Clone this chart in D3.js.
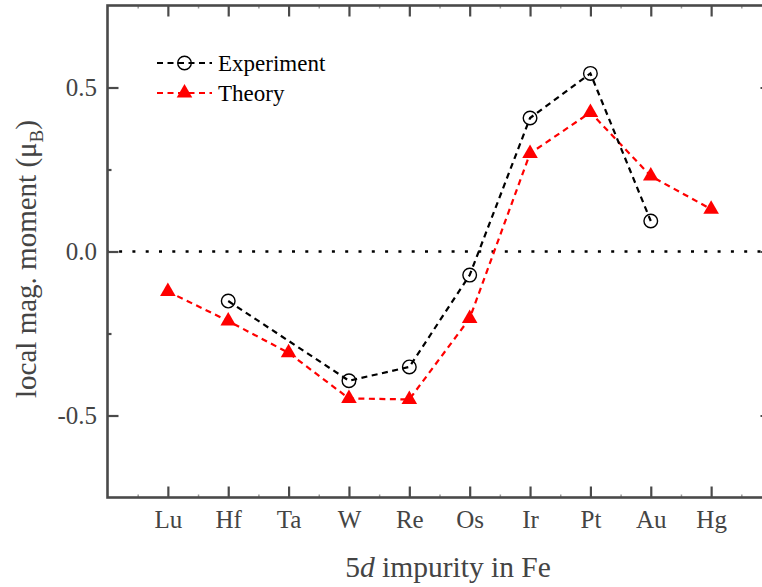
<!DOCTYPE html>
<html>
<head>
<meta charset="utf-8">
<script src="https://cdn.jsdelivr.net/npm/d3@7"></script>
<style>
  html, body { margin: 0; padding: 0; background: #fff; }
  svg { display: block; }
  svg text { font-family: "Liberation Serif", "Times New Roman", serif; }
</style>
</head>
<body>
<svg id="chart" width="762" height="587"></svg>
<script>
// ---- data ----
const elements = ["Lu", "Hf", "Ta", "W", "Re", "Os", "Ir", "Pt", "Au", "Hg"];
const experiment = [null, -0.151, null, -0.394, -0.352, -0.072, 0.407, 0.543, 0.093, null];
const theory = [-0.122, -0.212, -0.309, -0.448, -0.451, -0.204, 0.299, 0.424, 0.230, 0.129];
const yTicks = [-0.5, 0.0, 0.5];
const yMinorTicks = [-0.25, 0.25];
const seriesNames = ["Experiment", "Theory"];

// ---- layout ----
const FONT = '"Liberation Serif", "Times New Roman", serif';
const mLeft = 107.5, mRight = 771.5, mTop = 5.5, mBottom = 497.5;
const axisColor = "#4a4a4a";

const svg = d3.select("#chart");
const x = d3.scaleLinear().domain([0, elements.length + 1]).range([mLeft, mRight]);
const y = d3.scaleLinear().domain([-0.75, 0.75]).range([mBottom, mTop]);

const majorX = elements.map((d, i) => i + 1);
const minorX = d3.range(0, elements.length + 1).map(i => i + 0.5);

// zero dotted line
svg.append("line")
  .attr("x1", x(0)).attr("x2", x(elements.length + 1))
  .attr("y1", y(0)).attr("y2", y(0))
  .attr("stroke", "#000").attr("stroke-width", 2.6)
  .attr("stroke-dasharray", "3,10.3").attr("stroke-dashoffset", -11.6);

// axes
function styleAxis(g) {
  g.attr("font-family", FONT);
  g.selectAll(".domain").remove();
  g.selectAll(".tick line").attr("stroke", axisColor).attr("stroke-width", 2.2);
  g.selectAll(".tick text")
    .attr("fill", "#444")
    .attr("font-family", FONT)
    .style("font-size", "25px");
}

// bottom major
svg.append("g").attr("transform", `translate(0,${mBottom})`)
  .call(d3.axisBottom(x).tickValues(majorX).tickSize(-11).tickPadding(0)
    .tickFormat(d => elements[d - 1]))
  .call(styleAxis)
  .call(g => g.selectAll(".tick text").attr("y", 30.5).attr("dy", 0));
// bottom minor
svg.append("g").attr("transform", `translate(0,${mBottom})`)
  .call(d3.axisBottom(x).tickValues(minorX).tickSize(-3).tickFormat(""))
  .call(styleAxis).call(g => g.selectAll(".tick line").attr("stroke", "#999").attr("stroke-width", 1.5));
// top major
svg.append("g").attr("transform", `translate(0,${mTop})`)
  .call(d3.axisTop(x).tickValues(majorX).tickSize(-11).tickFormat(""))
  .call(styleAxis);
svg.append("g").attr("transform", `translate(0,${mTop})`)
  .call(d3.axisTop(x).tickValues(minorX).tickSize(-3).tickFormat(""))
  .call(styleAxis).call(g => g.selectAll(".tick line").attr("stroke", "#999").attr("stroke-width", 1.5));
// left major
svg.append("g").attr("transform", `translate(${mLeft},0)`)
  .call(d3.axisLeft(y).tickValues(yTicks).tickSize(-11).tickPadding(0)
    .tickFormat(d => d3.format(".1f")(d).replace("−", "-")))
  .call(styleAxis)
  .call(g => g.selectAll(".tick text").attr("x", -10.5).attr("dy", "0.33em").attr("text-anchor", "end"));
svg.append("g").attr("transform", `translate(${mLeft},0)`)
  .call(d3.axisLeft(y).tickValues(yMinorTicks).tickSize(-4).tickFormat(""))
  .call(styleAxis);
// right major
svg.append("g").attr("transform", `translate(${mRight},0)`)
  .call(d3.axisRight(y).tickValues(yTicks).tickSize(-11).tickFormat(""))
  .call(styleAxis);
svg.append("g").attr("transform", `translate(${mRight},0)`)
  .call(d3.axisRight(y).tickValues(yMinorTicks).tickSize(-4).tickFormat(""))
  .call(styleAxis);

// frame
svg.append("rect")
  .attr("x", mLeft).attr("y", mTop)
  .attr("width", mRight - mLeft).attr("height", mBottom - mTop)
  .attr("fill", "none").attr("stroke", axisColor).attr("stroke-width", 2.6);

// series
const line = d3.line().x(d => x(d.i + 1)).y(d => y(d.v));
const expPts = experiment.map((v, i) => ({ i, v })).filter(d => d.v !== null);
const thPts = theory.map((v, i) => ({ i, v })).filter(d => d.v !== null);

svg.append("path").datum(thPts).attr("d", line)
  .attr("fill", "none").attr("stroke", "#ff0000").attr("stroke-width", 2.2)
  .attr("stroke-dasharray", "6,4.5");
svg.append("path").datum(expPts).attr("d", line)
  .attr("fill", "none").attr("stroke", "#000").attr("stroke-width", 2.2)
  .attr("stroke-dasharray", "6,4.5");

const tri = d3.symbol().type(d3.symbolTriangle).size(105);
svg.append("g").selectAll("path").data(thPts).join("path")
  .attr("d", tri)
  .attr("transform", d => `translate(${x(d.i + 1)},${y(d.v)})`)
  .attr("fill", "#ff0000");

svg.append("g").selectAll("circle").data(expPts).join("circle")
  .attr("cx", d => x(d.i + 1)).attr("cy", d => y(d.v)).attr("r", 6.8)
  .attr("fill", "none").attr("stroke", "#000").attr("stroke-width", 1.4);

// legend
const legend = svg.append("g");
const legY = [63, 93];
const legColors = ["#000", "#ff0000"];
seriesNames.forEach((name, k) => {
  const g = legend.append("g").attr("transform", `translate(0,${legY[k]})`);
  g.append("line").attr("x1", 157).attr("x2", 212).attr("y1", 0).attr("y2", 0)
    .attr("stroke", legColors[k]).attr("stroke-width", 2.2).attr("stroke-dasharray", "6,4.5");
  if (k === 0) {
    g.append("circle").attr("cx", 184.5).attr("cy", 0).attr("r", 6.8)
      .attr("fill", "none").attr("stroke", "#000").attr("stroke-width", 1.4);
  } else {
    g.append("path").attr("d", tri).attr("transform", "translate(184.5,0)").attr("fill", "#ff0000");
  }
  g.append("text").attr("x", 218).attr("y", 0).attr("dy", "0.33em")
    .attr("font-family", FONT)
    .style("font-size", "23px").attr("fill", "#000").text(name);
});

// axis titles
const xt = svg.append("text").attr("x", 448).attr("y", 577)
  .attr("font-family", FONT)
  .attr("text-anchor", "middle").attr("fill", "#444").style("font-size", "29.5px");
xt.append("tspan").text("5");
xt.append("tspan").style("font-style", "italic").text("d");
xt.append("tspan").text(" impurity in Fe");

const yt = svg.append("text")
  .attr("transform", "translate(36,259) rotate(-90)")
  .attr("font-family", FONT)
  .attr("text-anchor", "middle").attr("fill", "#444").style("font-size", "29px");
yt.append("tspan").text("local mag. moment (μ");
yt.append("tspan").attr("dy", 7).style("font-size", "19px").text("B");
yt.append("tspan").attr("dy", -7).text(")");
</script>
</body>
</html>
